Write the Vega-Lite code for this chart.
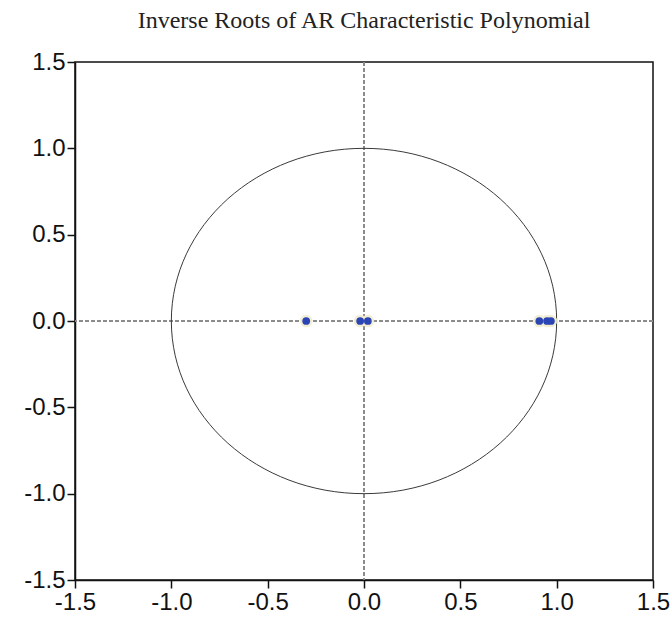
{
  "$schema": "https://vega.github.io/schema/vega-lite/v6.json",
  "autosize": "none",
  "width": 578,
  "height": 518,
  "padding": {"left": 75, "top": 62, "right": 19, "bottom": 41},
  "background": "white",
  "title": {
    "text": "Inverse Roots of AR Characteristic Polynomial",
    "font": "Liberation Serif",
    "fontSize": 24,
    "fontWeight": "normal",
    "color": "#222",
    "anchor": "middle",
    "offset": 17
  },
  "data": {
    "values": [
      {"re": -0.30, "im": 0},
      {"re": -0.02, "im": 0},
      {"re": 0.02, "im": 0},
      {"re": 0.91, "im": 0},
      {"re": 0.95, "im": 0},
      {"re": 0.97, "im": 0}
    ]
  },
  "config": {
    "view": {"stroke": "#111", "strokeWidth": 1.5},
    "axis": {
      "grid": false,
      "title": null,
      "domainColor": "#111",
      "domainWidth": 1.5,
      "tickColor": "#111",
      "tickWidth": 1.5,
      "tickSize": 8,
      "labelFont": "Liberation Sans",
      "labelFontSize": 24,
      "labelColor": "#111",
      "labelPadding": 2,
      "labelFlush": false,
      "labelOverlap": false
    }
  },
  "layer": [
    {
      "mark": {"type": "rule", "color": "#8a8a8a", "strokeWidth": 1, "strokeDash": [4, 2]},
      "encoding": {
        "x": {
          "datum": 0, "type": "quantitative",
          "scale": {"domain": [-1.5, 1.5], "nice": false, "zero": false},
          "axis": {"values": [-1.5, -1.0, -0.5, 0.0, 0.5, 1.0, 1.5], "format": ".1f", "labelExpr": "replace(datum.label, '\u2212', '-')", "title": null}
        }
      }
    },
    {
      "mark": {"type": "rule", "color": "#8a8a8a", "strokeWidth": 1, "strokeDash": [4, 2]},
      "encoding": {
        "y": {
          "datum": 0, "type": "quantitative",
          "scale": {"domain": [-1.5, 1.5], "nice": false, "zero": false},
          "axis": {"values": [-1.5, -1.0, -0.5, 0.0, 0.5, 1.0, 1.5], "format": ".1f", "labelExpr": "replace(datum.label, '\u2212', '-')", "title": null}
        }
      }
    },
    {
      "data": {"values": [{"re": 0, "im": 0}]},
      "mark": {
        "type": "point",
        "shape": "M -1 0 A 1 0.8962 0 1 1 1 0 A 1 0.8962 0 1 1 -1 0 Z",
        "size": 148481,
        "filled": false,
        "stroke": "#3a3a3a",
        "strokeWidth": 1,
        "opacity": 1
      },
      "encoding": {
        "x": {"field": "re", "type": "quantitative"},
        "y": {"field": "im", "type": "quantitative"}
      }
    },
    {
      "mark": {"type": "circle", "size": 160, "color": "#f2ecd2", "opacity": 0.9},
      "encoding": {
        "x": {"field": "re", "type": "quantitative"},
        "y": {"field": "im", "type": "quantitative"}
      }
    },
    {
      "mark": {"type": "circle", "size": 60, "color": "#2b45b5", "opacity": 1},
      "encoding": {
        "x": {"field": "re", "type": "quantitative"},
        "y": {"field": "im", "type": "quantitative"}
      }
    }
  ]
}
